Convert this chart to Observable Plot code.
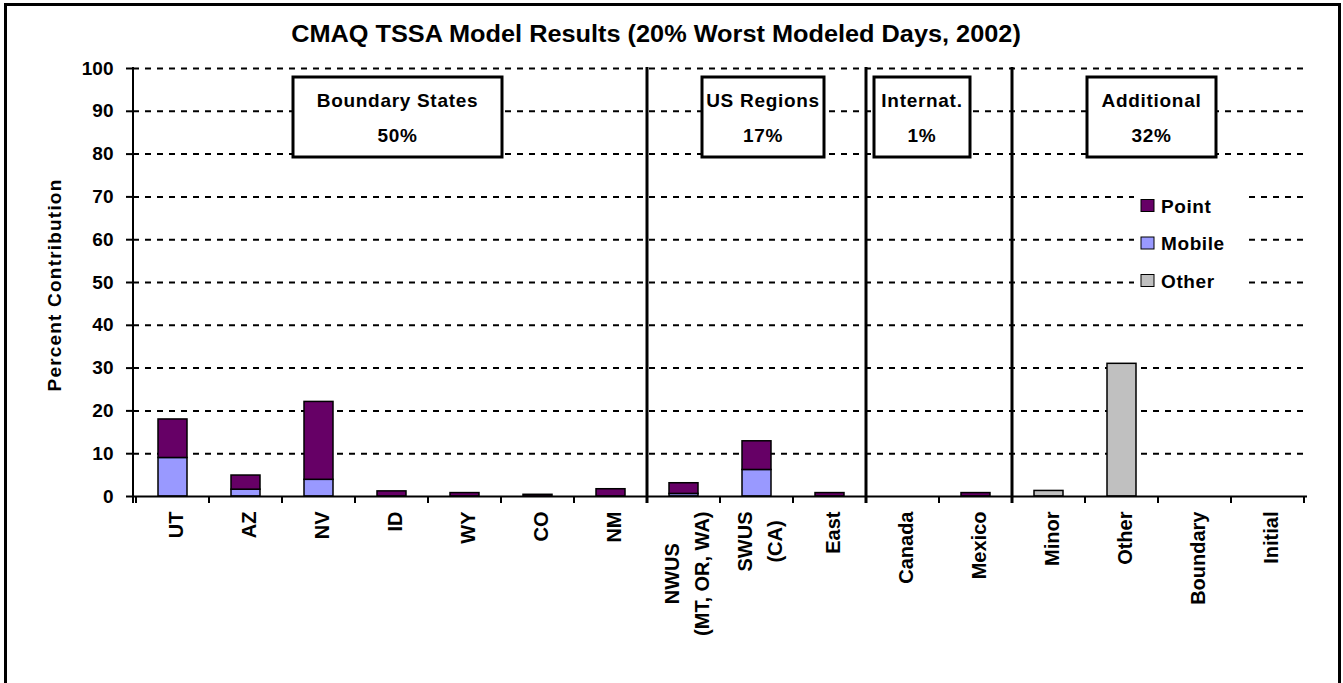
<!DOCTYPE html>
<html><head><meta charset="utf-8">
<script src="https://cdn.jsdelivr.net/npm/d3@7"></script>
<script src="https://cdn.jsdelivr.net/npm/@observablehq/plot@0.6"></script>
<style>html,body{margin:0;padding:0;background:#fff}svg{display:block}</style>
</head><body><div id="chart"></div>
<script>
// ---- data ----
const categories = ["UT","AZ","NV","ID","WY","CO","NM","NWUS\n(MT, OR, WA)","SWUS\n(CA)","East","Canada","Mexico","Minor","Other","Boundary","Initial"];
const pointValues  = [9.0, 3.3, 18.2, 1.2, 0.8, 0.4, 1.7, 2.5, 6.7, 0.8, 0, 0.8, 0, 0, 0, 0];
const mobileValues = [9.0, 1.6, 3.9, 0, 0, 0, 0, 0.6, 6.2, 0, 0, 0, 0, 0, 0, 0];
const otherValues  = [0, 0, 0, 0, 0, 0, 0, 0, 0, 0, 0, 0, 1.3, 31.0, 0, 0];
const seriesNames  = ["Point","Mobile","Other"];
const seriesColors = ["#660066","#9999FF","#C0C0C0"];
const yTicks = [0,10,20,30,40,50,60,70,80,90,100];
const groupNames  = ["Boundary States","US Regions","Internat.","Additional"];
const groupShares = ["50%","17%","1%","32%"];
const groupFirst  = ["UT","NWUS\n(MT, OR, WA)","Canada","Minor"];
const titleText = "CMAQ TSSA Model Results (20% Worst Modeled Days, 2002)";
const yLabelText = "Percent Contribution";

// ---- table for the library ----
const rows = [];
categories.forEach((c, i) => {
  [["Mobile", mobileValues], ["Point", pointValues], ["Other", otherValues]].forEach(([s, arr]) => {
    if (arr[i] > 0) rows.push({category: c, series: s, value: arr[i]});
  });
});

const W = 1343, H = 683, ML = 133, MR = 36, MT = 68, MB = 187;
const FONT = "'Liberation Sans', Arial, Helvetica, sans-serif";

const plot = Plot.plot({
  width: W, height: H,
  marginLeft: ML, marginRight: MR, marginTop: MT, marginBottom: MB,
  style: {fontFamily: FONT, fontWeight: "bold", background: "white", color: "black", overflow: "visible"},
  x: {domain: categories, paddingInner: 0.6, paddingOuter: 0.3, axis: null},
  y: {domain: [0, 100]},
  color: {domain: seriesNames, range: seriesColors},
  marks: [
    Plot.gridY(yTicks.filter(d => d > 0), {stroke: "black", strokeOpacity: 1, strokeWidth: 2, strokeDasharray: "6,6"}),
    Plot.axisY(yTicks, {tickSize: 7, tickPadding: 13, fontSize: 19, fontWeight: "bold", label: null, strokeWidth: 2}),
    Plot.barY(rows, {x: "category", y: "value", fill: "series", order: ["Mobile","Point","Other"], stroke: "black", strokeWidth: 1.5}),
    Plot.ruleY([0], {stroke: "black", strokeWidth: 2}),
    Plot.text(categories, {x: d => d, text: d => d, frameAnchor: "bottom", rotate: -90, textAnchor: "end",
      lineAnchor: "middle", lineHeight: 1.5, dy: 15, fontSize: 20, fontWeight: "bold"})
  ]
});
document.getElementById("chart").appendChild(plot);

// ---- annotations ----
const svg = d3.select(plot);
const xs = plot.scale("x");
const step = xs.step, bw = xs.bandwidth;
const slotLeft = c => xs.apply(c) - (step - bw) / 2;
const y0 = H - MB;
const bounds = categories.map(slotLeft).concat([slotLeft(categories[categories.length - 1]) + step]);

// center the lines of multi-line x labels on each other
svg.selectAll("text").each(function() {
  const spans = Array.from(this.querySelectorAll("tspan"));
  if (spans.length > 1) {
    let mx = 0;
    spans.forEach(s => { mx = Math.max(mx, s.getComputedTextLength()); });
    this.setAttribute("text-anchor", "middle");
    this.style.textAnchor = "middle";
    spans.forEach(s => s.setAttribute("x", -mx / 2));
  }
});

const ann = svg.append("g").attr("font-family", FONT).attr("font-weight", "bold").attr("fill", "black").attr("text-anchor", "start");
// y axis line
ann.append("line").attr("x1", ML).attr("x2", ML).attr("y1", MT - 1).attr("y2", y0 + 7).attr("stroke", "black").attr("stroke-width", 2);
// x ticks
bounds.forEach(b => ann.append("line").attr("x1", b).attr("x2", b).attr("y1", y0).attr("y2", y0 + 7).attr("stroke", "black").attr("stroke-width", 2));
// group dividers
groupFirst.slice(1).forEach(c => {
  const b = slotLeft(c);
  ann.append("line").attr("x1", b).attr("x2", b).attr("y1", MT - 1).attr("y2", y0 + 7).attr("stroke", "black").attr("stroke-width", 3);
});
// group boxes
const boxX = [[293, 502], [702, 824], [874, 970], [1087, 1216]];
const boxY = [77, 157];
groupNames.forEach((g, i) => {
  const [a, b] = boxX[i];
  ann.append("rect").attr("x", a).attr("y", boxY[0]).attr("width", b - a).attr("height", boxY[1] - boxY[0])
    .attr("fill", "white").attr("stroke", "black").attr("stroke-width", 3);
  ann.append("text").attr("x", (a + b) / 2).attr("y", 107).attr("text-anchor", "middle").attr("font-size", 19).attr("letter-spacing", 0.7).text(g);
  ann.append("text").attr("x", (a + b) / 2).attr("y", 142).attr("text-anchor", "middle").attr("font-size", 19).attr("letter-spacing", 0.7).text(groupShares[i]);
});
// legend
ann.append("rect").attr("x", 1134).attr("y", 188).attr("width", 111).attr("height", 104).attr("fill", "white");
seriesNames.forEach((s, i) => {
  const cy = 205.5 + i * 37.5;
  ann.append("rect").attr("x", 1141).attr("y", cy - 6).attr("width", 13).attr("height", 12)
    .attr("fill", seriesColors[i]).attr("stroke", "black").attr("stroke-width", 1);
  ann.append("text").attr("x", 1161).attr("y", cy + 7).attr("font-size", 19).attr("letter-spacing", 0.6).text(s);
});
// title
const tt = ann.append("text").attr("x", 656).attr("y", 42).attr("text-anchor", "middle").attr("font-size", 23).text(titleText);
const natural = tt.node().getComputedTextLength();
tt.attr("textLength", natural * 1.1).attr("lengthAdjust", "spacingAndGlyphs");
// y label
ann.append("text").attr("transform", "translate(61,285) rotate(-90)").attr("text-anchor", "middle").attr("font-size", 19).attr("letter-spacing", 1.2).text(yLabelText);
// outer frame
ann.append("rect").attr("x", 5.5).attr("y", 4.5).attr("width", 1334).attr("height", 700).attr("fill", "none").attr("stroke", "black").attr("stroke-width", 3);
</script>
</body></html>
